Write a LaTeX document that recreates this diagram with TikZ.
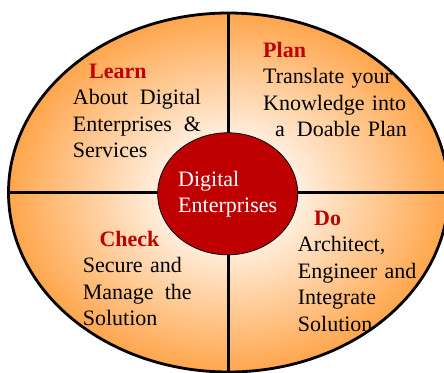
\documentclass[tikz,border=0pt]{standalone}
\usepackage{fontspec}
\setmainfont{Liberation Serif}
\usepackage{tikz}
\usetikzlibrary{shapes.geometric}
\definecolor{orng}{rgb}{1.,0.6,0.2}
\definecolor{dkred}{rgb}{0.75,0.,0.}
\pgfdeclareradialshading{glow}{\pgfpointorigin}{color(0bp)=(white); color(4bp)=(white); color(28bp)=(orng); color(50bp)=(orng)}
\tikzset{
  quad/.style={anchor=base west,inner sep=0pt,align=left,text width=#1,font=\fontsize{22}{26.5}\selectfont},
}
\newcommand{\head}[1]{\textbf{\textcolor{dkred}{#1}}}

\begin{document}
\begin{tikzpicture}[line cap=round,line join=round,x=1pt,y=-1pt]
  \useasboundingbox (0,0) rectangle (444,372);
  \clip (0,0) rectangle (444,372);
  % outer ring and quadrant lines
  \node [ellipse,shade,shading=glow,draw,line width=2.8pt,minimum width=440,minimum height=359,inner sep=0pt] (rim) at (228.5,192.5) {};
  \draw [line width=2.8pt,line cap=butt] (rim.west) -- (rim.east);
  \draw [line width=2.8pt,line cap=butt] (rim.north) -- (rim.south);
  % hub
  \node [ellipse,draw,line width=0.8pt,fill=dkred,text=white,minimum width=140,minimum height=122,inner sep=0pt,align=left,font=\fontsize{22}{26}\selectfont] (hub) at (227.7,193.8) {Digital\\Enterprises};
  % quadrant texts
  \node [quad=130pt] (learn) at (72.7,78) {\hspace*{16.3pt}\head{Learn}\\About\hspace{12pt}Digital\\Enterprises\hspace{12pt}\&\\Services};
  \node [quad=150pt] (plan) at (263,57.3) {\head{Plan}\\Translate your\\Knowledge into\\\hspace*{12pt}a\hspace{12pt}Doable Plan};
  \node [quad=140pt] (do) at (297.7,225) {\hspace*{16.3pt}\head{Do}\\Architect,\\Engineer and\\Integrate\\Solution};
  \node [quad=120pt] (check) at (82.7,246) {\hspace*{16.6pt}\head{Check}\\Secure and\\Manage\hspace{11pt}the\\Solution};
\end{tikzpicture}
\end{document}
